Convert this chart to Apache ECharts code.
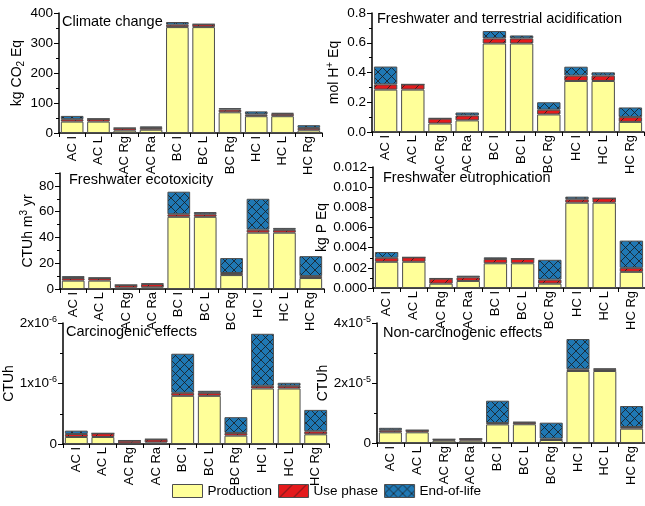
<!DOCTYPE html>
<html>
<head>
<meta charset="utf-8">
<script src="https://cdn.jsdelivr.net/npm/echarts@6/dist/echarts.min.js"></script>
<style>
  html, body { margin: 0; padding: 0; background: #fff; }
  #chart { width: 645px; height: 506px; }
</style>
</head>
<body>
<div id="chart"></div>
<script>
'use strict';

var categories = ['AC I', 'AC L', 'AC Rg', 'AC Ra', 'BC I', 'BC L', 'BC Rg', 'HC I', 'HC L', 'HC Rg'];

// Climate change, kg CO2 Eq
var climateProd = [38, 38, 8, 11, 353, 353, 69, 56, 56, 9];
var climateUse  = [8, 9, 8, 6, 8, 9, 9, 6, 8, 8];
var climateEol  = [11, 0.5, 1, 5, 9, 1, 5, 10, 3, 9];

// Freshwater and terrestrial acidification, mol H+ Eq
var acidProd = [0.285, 0.285, 0.057, 0.078, 0.595, 0.595, 0.118, 0.343, 0.343, 0.068];
var acidUse  = [0.035, 0.035, 0.033, 0.033, 0.034, 0.034, 0.032, 0.036, 0.036, 0.032];
var acidEol  = [0.12, 0, 0.003, 0.02, 0.05, 0.02, 0.05, 0.06, 0.022, 0.065];

// Freshwater ecotoxicity, CTUh m3 yr
var ecoProd = [6.5, 6.5, 1, 1.3, 56, 56, 10.8, 43.7, 43.7, 8.5];
var ecoUse  = [2, 2, 2, 2.5, 2, 2, 1.6, 2.3, 2.2, 1.5];
var ecoEol  = [1.5, 0.3, 0.2, 0.5, 17.5, 1.7, 11.6, 24, 1.5, 15.5];

// Freshwater eutrophication, kg P Eq
var eutroProd = [0.0026, 0.0026, 0.00043, 0.0007, 0.00245, 0.00245, 0.00043, 0.00846, 0.00846, 0.0016];
var eutroUse  = [0.0004, 0.00044, 0.0005, 0.00036, 0.00042, 0.00045, 0.0004, 0.00034, 0.00044, 0.0004];
var eutroEol  = [0.00057, 0, 0.00003, 0.00016, 0.00017, 0, 0.00197, 0.00026, 0, 0.0027];

// Carcinogenic effects, CTUh
var carcProd = [1.16e-7, 1.16e-7, 1.0e-8, 2.5e-8, 7.96e-7, 7.96e-7, 1.38e-7, 9.17e-7, 9.17e-7, 1.6e-7];
var carcUse  = [5.0e-8, 6.0e-8, 4.5e-8, 5.0e-8, 5.0e-8, 5.0e-8, 4.5e-8, 4.5e-8, 4.5e-8, 5.0e-8];
var carcEol  = [5.5e-8, 0, 6e-9, 8e-9, 6.46e-7, 3.3e-8, 2.6e-7, 8.6e-7, 5.0e-8, 3.54e-7];

// Non-carcinogenic effects, CTUh
var nonCarcProd = [3.56e-6, 3.56e-6, 7.8e-7, 7.8e-7, 6.2e-6, 6.25e-6, 1.0e-6, 2.4e-5, 2.4e-5, 4.78e-6];
var nonCarcUse  = [7e-7, 7e-7, 4e-7, 6e-7, 4.5e-7, 6e-7, 4.4e-7, 5.6e-7, 6e-7, 5.5e-7];
var nonCarcEol  = [8e-7, 0, 1e-7, 6e-8, 7.45e-6, 1.5e-7, 5.34e-6, 1.01e-5, 2e-7, 7e-6];

var seriesNames = ['Production', 'Use phase', 'End-of-life'];
var FONT = '"Liberation Sans", Arial, sans-serif';

// hatch fills
function makeHatch(bg, cross, size) {
    var c = document.createElement('canvas');
    c.width = size; c.height = size;
    var ctx = c.getContext('2d');
    ctx.fillStyle = bg;
    ctx.fillRect(0, 0, size, size);
    ctx.strokeStyle = '#1a1a1a';
    ctx.lineWidth = 0.8;
    ctx.beginPath();
    ctx.moveTo(0, size); ctx.lineTo(size, 0);
    if (cross) { ctx.moveTo(0, 0); ctx.lineTo(size, size); }
    ctx.stroke();
    return c;
}
var yellowFill = '#ffff99';
var redFill = { image: makeHatch('#e41a1c', false, 14), repeat: 'repeat' };
var blueFill = { image: makeHatch('#1f78b4', true, 9), repeat: 'repeat' };
var fills = [yellowFill, redFill, blueFill];

function sci(v) {
    if (v === 0) return '0';
    var p = v.toExponential().split('e');
    return '{b|' + Math.round(+p[0]) + 'x10}{s|' + (+p[1]) + '}';
}

var panels = [
    { title: 'Climate change', name: '{n|kg CO}{sub|2}{n| Eq}', nameGap: 27, data: [climateProd, climateUse, climateEol],
      grid: { left: 59, top: 13, width: 263, height: 120 }, max: 400, interval: 100,
      fmt: function (v) { return v; }, titlePos: [62, 14] },
    { title: 'Freshwater and terrestrial acidification', name: '{n|mol H}{sup|+}{n| Eq}', nameGap: 29, data: [acidProd, acidUse, acidEol],
      grid: { left: 372, top: 13, width: 272, height: 119 }, max: 0.8, interval: 0.2,
      fmt: function (v) { return v.toFixed(1); }, titlePos: [377, 11] },
    { title: 'Freshwater ecotoxicity', name: '{n|CTUh m}{sup|3}{n| yr}', nameGap: 19, data: [ecoProd, ecoUse, ecoEol],
      grid: { left: 60, top: 173, width: 264, height: 116 }, max: 90, interval: 20,
      fmt: function (v) { return v; }, titlePos: [69, 172] },
    { title: 'Freshwater eutrophication', name: '{n|kg P Eq}', nameGap: 36, data: [eutroProd, eutroUse, eutroEol],
      grid: { left: 373, top: 167, width: 272, height: 121 }, max: 0.012, interval: 0.002,
      fmt: function (v) { return v.toFixed(3); }, titlePos: [383, 170] },
    { title: 'Carcinogenic effects', name: '{n|CTUh}', nameGap: 31, data: [carcProd, carcUse, carcEol],
      grid: { left: 63, top: 323, width: 266, height: 121 }, max: 2e-6, interval: 1e-6,
      fmt: sci, titlePos: [66, 324] },
    { title: 'Non-carcinogenic effects', name: '{n|CTUh}', nameGap: 40, data: [nonCarcProd, nonCarcUse, nonCarcEol],
      grid: { left: 377, top: 323, width: 268, height: 120 }, max: 4e-5, interval: 2e-5,
      fmt: sci, titlePos: [383, 325] }
];

var grids = [], xAxes = [], yAxes = [], titles = [], series = [];
panels.forEach(function (p, i) {
    grids.push(p.grid);
    titles.push({
        text: p.title, left: p.titlePos[0], top: p.titlePos[1], padding: 0,
        textStyle: { fontFamily: FONT, fontSize: 14.5, fontWeight: 'normal', color: '#000' }
    });
    xAxes.push({
        type: 'category', gridIndex: i, data: categories,
        axisLine: { lineStyle: { color: '#000', width: 1.5 } },
        axisTick: { show: true, length: 4, inside: false, lineStyle: { color: '#000' } },
        axisLabel: { rotate: 90, interval: 0, margin: 3, fontFamily: FONT, fontSize: 13, color: '#000' }
    });
    yAxes.push({
        type: 'value', gridIndex: i, min: 0, max: p.max, interval: p.interval,
        name: p.name, nameLocation: 'middle', nameGap: p.nameGap,
        nameTextStyle: {
            fontFamily: FONT, fontSize: 14, color: '#000',
            rich: {
                n: { fontFamily: FONT, fontSize: 14, color: '#000', lineHeight: 18 },
                sub: { fontFamily: FONT, fontSize: 10, verticalAlign: 'bottom', color: '#000', lineHeight: 18 },
                sup: { fontFamily: FONT, fontSize: 10, verticalAlign: 'top', color: '#000', lineHeight: 18 }
            }
        },
        splitLine: { show: false },
        axisLine: { show: true, lineStyle: { color: '#000', width: 1.5 } },
        axisTick: { show: true, length: 5, lineStyle: { color: '#000' } },
        minorTick: { show: true, splitNumber: 2, length: 3, lineStyle: { color: '#000' } },
        axisLabel: {
            margin: 6, fontFamily: FONT, fontSize: 13.5, color: '#000',
            showMaxLabel: p.max !== 90,
            formatter: p.fmt,
            rich: {
                b: { fontFamily: FONT, fontSize: 13.5, color: '#000', lineHeight: 16 },
                s: { fontFamily: FONT, fontSize: 9, color: '#000', verticalAlign: 'top', lineHeight: 16 }
            }
        }
    });
    p.data.forEach(function (vals, k) {
        series.push({
            name: seriesNames[k], type: 'bar', stack: 'p' + i,
            xAxisIndex: i, yAxisIndex: i, data: vals,
            barCategoryGap: '14%',
            itemStyle: { color: fills[k], borderColor: '#4d4d4d', borderWidth: 1 },
            emphasis: { disabled: true }
        });
    });
});

var chart = echarts.init(document.getElementById('chart'), null, { renderer: 'canvas' });
chart.setOption({
    animation: false,
    backgroundColor: '#fff',
    title: titles,
    grid: grids,
    xAxis: xAxes,
    yAxis: yAxes,
    series: series,
    legend: {
        data: seriesNames, left: 172, top: 484, padding: 0,
        itemWidth: 30, itemHeight: 13, itemGap: 6, icon: 'rect',
        itemStyle: { borderColor: '#4d4d4d', borderWidth: 1 },
        textStyle: { fontFamily: FONT, fontSize: 13.5, color: '#000' }
    }
});
</script>
</body>
</html>
